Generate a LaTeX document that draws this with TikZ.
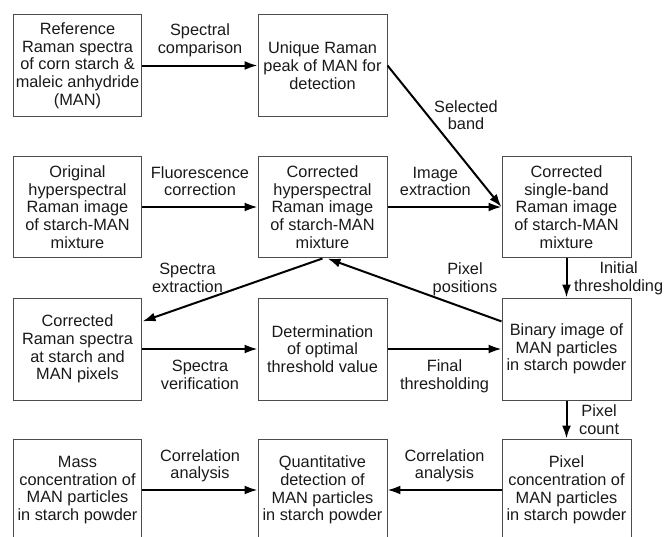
\documentclass[tikz,border=0pt]{standalone}
\usepackage{fontspec}
\setmainfont{Liberation Sans}
\usetikzlibrary{arrows.meta,calc,positioning}

\begin{document}
\begin{tikzpicture}[x=0.6pt,y=-0.6pt,>={Latex[length=7.8pt,width=5.4pt]},
  font=\fontsize{9.8}{10.6}\selectfont,
  stage/.style={draw=black!70,line width=0.6pt,minimum width=77.4pt,minimum height=61.2pt,inner sep=0pt,align=center,text=black!90},
  flow/.style={->,line width=1.2pt},
  note/.style={align=center,inner sep=1pt,text=black!90}]
\useasboundingbox (0,0) rectangle (664,537);
\clip (0,0) rectangle (664,537);
\node[stage] (ref) at (77.5,65.5) {Reference\\Raman spectra\\of corn starch \&\\maleic anhydride\\(MAN)};
\node[stage] (peak) at (322.5,65.5) {Unique Raman\\peak of MAN for\\detection};
\node[stage] (orig) at (77.5,207) {Original\\hyperspectral\\Raman image\\of starch-MAN\\mixture};
\node[stage] (corr) at (322.5,207) {Corrected\\hyperspectral\\Raman image\\of starch-MAN\\mixture};
\node[stage] (band) at (566.5,207) {Corrected\\single-band\\Raman image\\of starch-MAN\\mixture};
\node[stage] (spec) at (77.5,349) {Corrected\\Raman spectra\\at starch and\\MAN pixels};
\node[stage] (thr) at (322.5,349) {Determination\\of optimal\\threshold value};
\node[stage] (bin) at (566.5,349) {Binary image of\\MAN particles\\in starch powder};
\node[stage] (mass) at (77.5,490) {Mass\\concentration of\\MAN particles\\in starch powder};
\node[stage] (quant) at (322.5,490) {Quantitative\\detection of\\MAN particles\\in starch powder};
\node[stage] (pix) at (566.5,490) {Pixel\\concentration of\\MAN particles\\in starch powder};
\draw[flow] (ref) -- node[note,above=3.5pt] {Spectral\\comparison} (peak);
\draw[flow] (peak.east) -- node[note,pos=0.35,right=2.5pt] {Selected\\band} (band.west);
\draw[flow] (orig) -- node[note,above=5pt] {Fluorescence\\correction} (corr);
\draw[flow] (corr) -- node[note,pos=0.42,above=5pt] {Image\\extraction} (band);
\draw[flow] (band) -- node[note,right=3pt] {Initial\\thresholding} (bin);
\draw[flow] (bin.157) -- node[note,pos=0.21,above=6pt] {Pixel\\positions} ($(corr.south)+(5,0)$);
\draw[flow] (corr.south) -- node[note,pos=0.75,above=6.5pt] {Spectra\\extraction} (spec.23);
\draw[flow] (spec) -- node[note,below=5pt] {Spectra\\verification} (thr);
\draw[flow] (thr) -- node[note,below=5pt] {Final\\thresholding} (bin);
\draw[flow] (bin) -- node[note,right=6pt] {Pixel\\count} (pix);
\draw[flow] (pix) -- node[note,above=3pt] {Correlation\\analysis} (quant);
\draw[flow] (mass) -- node[note,above=3pt] {Correlation\\analysis} (quant);
\end{tikzpicture}
\end{document}
